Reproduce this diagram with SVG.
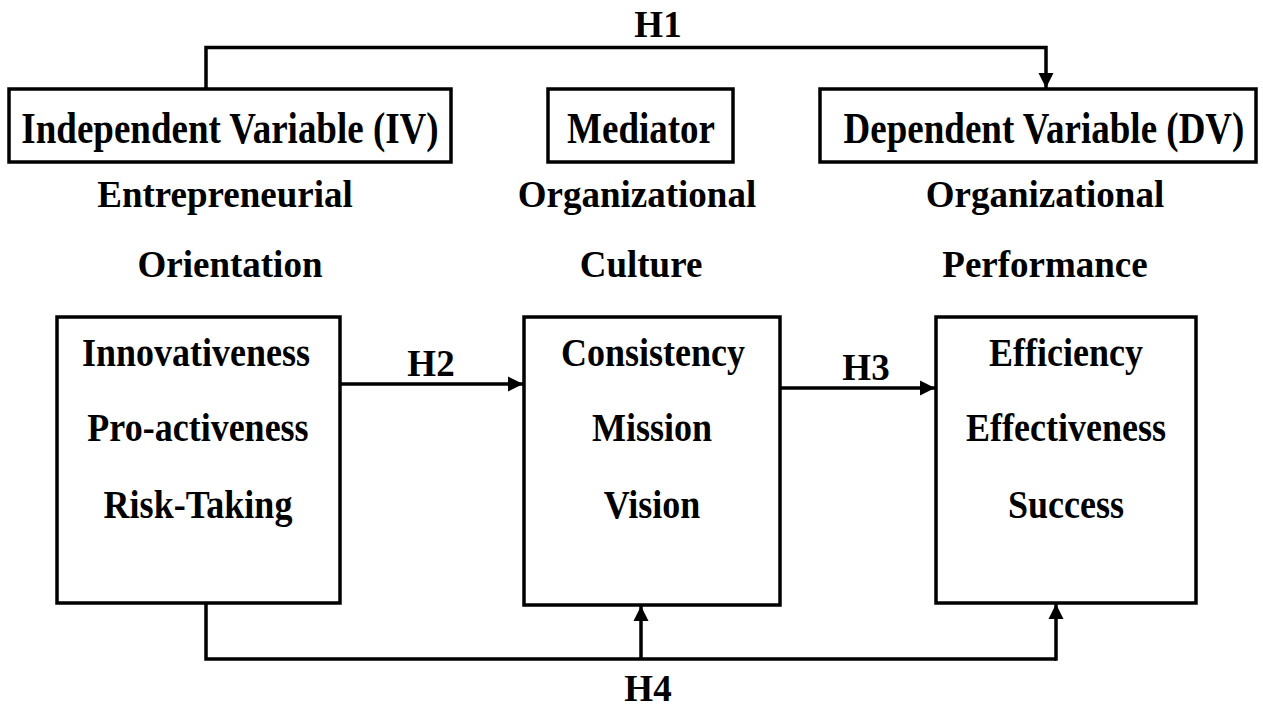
<svg xmlns="http://www.w3.org/2000/svg" width="1263" height="707" viewBox="0 0 1263 707">
<style>
  .box { fill: #ffffff; stroke: #000000; stroke-width: 3.5; }
  .line { fill: none; stroke: #000000; stroke-width: 3.5; }
  text { font-family: "Liberation Serif", "Times New Roman", serif; font-weight: bold; font-size: 37px; fill: #000000; text-anchor: middle; }
  .box-text { font-size: 36px; }
</style>
<defs>
  <marker id="arrow" markerUnits="userSpaceOnUse" markerWidth="16" markerHeight="16" viewBox="0 0 16 16" refX="15" refY="8" orient="auto">
    <path d="M0,0.5 L15,8 L0,15.5 Z" fill="#000000"/>
  </marker>
</defs>
<rect width="1263" height="707" fill="#ffffff"/>

<g id="connectors">
  <path id="h1" class="line" d="M206,89 L206,47.5 L1046,47.5 L1046,88" marker-end="url(#arrow)"/>
  <path id="h2" class="line" d="M340,384 L523,384" marker-end="url(#arrow)"/>
  <path id="h3" class="line" d="M780,388 L935,388" marker-end="url(#arrow)"/>
  <path id="h4-base" class="line" d="M206,603 L206,659 L1056,659"/>
  <path id="h4-med" class="line" d="M641,659 L641,606" marker-end="url(#arrow)"/>
  <path id="h4-dv" class="line" d="M1056,660.75 L1056,604" marker-end="url(#arrow)"/>
  <text x="658" y="37">H1</text>
  <text x="431" y="376">H2</text>
  <text x="866" y="380">H3</text>
  <text x="648" y="701">H4</text>
</g>

<g id="iv-label">
  <rect class="box" x="9" y="89" width="442" height="73"/>
  <text transform="translate(230,143) scale(1,1.2)">Independent Variable (IV)</text>
</g>
<g id="mediator-label">
  <rect class="box" x="548" y="89" width="185" height="73"/>
  <text transform="translate(641,143) scale(1,1.2)">Mediator</text>
</g>
<g id="dv-label">
  <rect class="box" x="820" y="89" width="436" height="73"/>
  <text transform="translate(1044,143) scale(1,1.2)">Dependent Variable (DV)</text>
</g>

<g id="iv-title">
  <text x="225" y="207">Entrepreneurial</text>
  <text x="230" y="277">Orientation</text>
</g>
<g id="mediator-title">
  <text x="637" y="207">Organizational</text>
  <text x="641" y="277">Culture</text>
</g>
<g id="dv-title">
  <text x="1045" y="207">Organizational</text>
  <text x="1045" y="277">Performance</text>
</g>

<g id="iv-box">
  <rect class="box" x="57" y="317" width="283" height="286"/>
  <text class="box-text" transform="translate(196,366) scale(1,1.12)">Innovativeness</text>
  <text class="box-text" transform="translate(198,441) scale(1,1.12)">Pro-activeness</text>
  <text class="box-text" transform="translate(198,518) scale(1,1.12)">Risk-Taking</text>
</g>
<g id="mediator-box">
  <rect class="box" x="524" y="317" width="256" height="288"/>
  <text class="box-text" transform="translate(653,366) scale(1,1.12)">Consistency</text>
  <text class="box-text" transform="translate(652,441) scale(1,1.12)">Mission</text>
  <text class="box-text" transform="translate(652,518) scale(1,1.12)">Vision</text>
</g>
<g id="dv-box">
  <rect class="box" x="936" y="317" width="260" height="286"/>
  <text class="box-text" transform="translate(1066,366) scale(1,1.12)">Efficiency</text>
  <text class="box-text" transform="translate(1066,441) scale(1,1.12)">Effectiveness</text>
  <text class="box-text" transform="translate(1066,518) scale(1,1.12)">Success</text>
</g>
</svg>
